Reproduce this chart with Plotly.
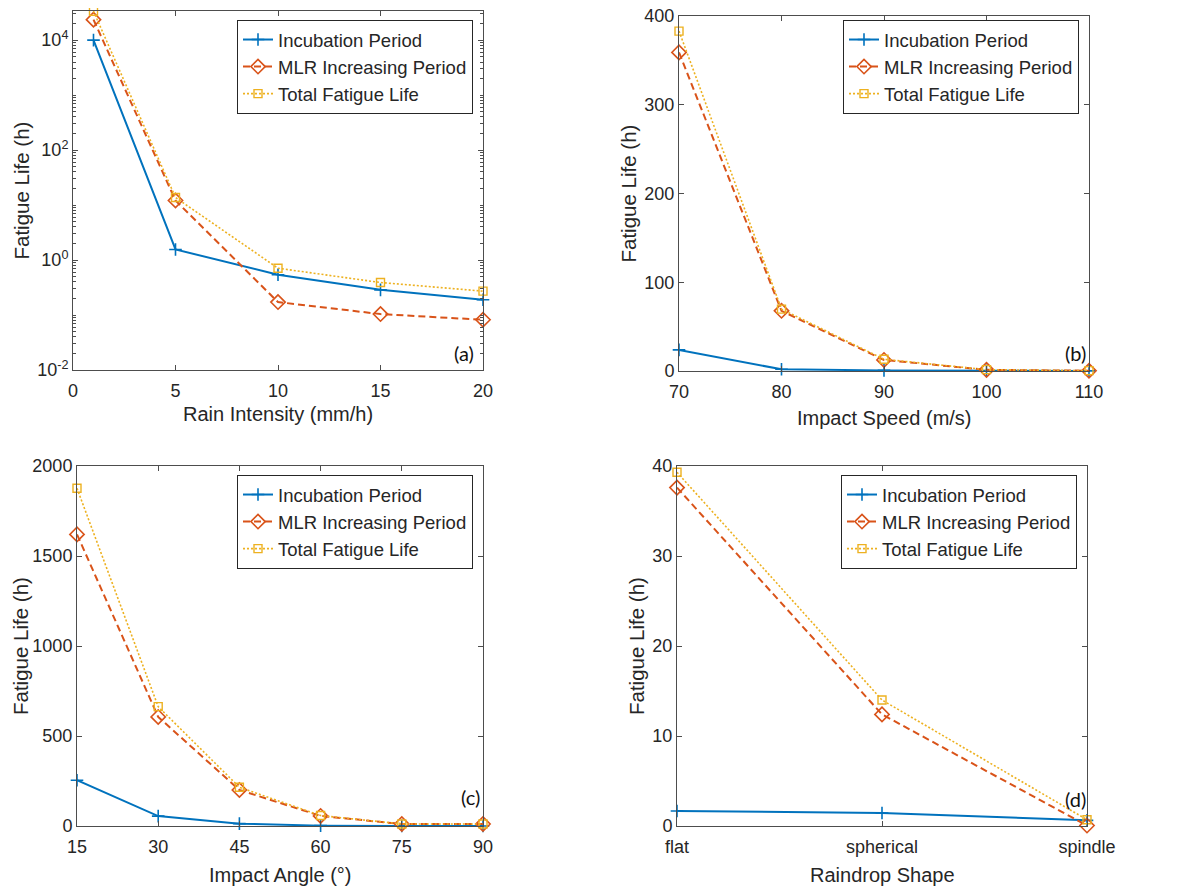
import plotly.graph_objects as go

# --- data ---
rain_intensity = [1, 5, 10, 15, 20]
a_incubation = [10000, 1.56, 0.54, 0.287, 0.19]
a_mlr = [23600, 12.1, 0.172, 0.104, 0.082]
a_total = [33600, 13.7, 0.71, 0.39, 0.272]

impact_speed = [70, 80, 90, 100, 110]
b_incubation = [23.8, 1.9, 0.7, 0.2, 0.1]
b_mlr = [359, 67.8, 12.5, 1.3, 0.3]
b_total = [383, 69.7, 13.2, 1.5, 0.4]

impact_angle = [15, 30, 45, 60, 75, 90]
c_incubation = [254, 55, 13, 2, 0.5, 0.2]
c_mlr = [1620, 606, 200, 56, 11, 11]
c_total = [1876, 663, 215, 58, 11.5, 11.2]

raindrop_shape = ["flat", "spherical", "spindle"]
d_incubation = [1.67, 1.45, 0.63]
d_mlr = [37.6, 12.4, 0.05]
d_total = [39.3, 14.0, 0.7]

series_names = ["Incubation Period", "MLR Increasing Period", "Total Fatigue Life"]
log_tickvals = [0.01, 1, 100, 10000]
log_ticktext = ["10<sup>-2</sup>", "10<sup>0</sup>", "10<sup>2</sup>", "10<sup>4</sup>"]

# --- MATLAB-ish style ---
BLUE = "#0072BD"
ORANGE = "#D95319"
YELLOW = "#EDB120"
INK = "#262626"
AXIS = "#4d4d4d"
FONT = "'Liberation Sans', Arial, sans-serif"
PAGE = 8  # default body margin of the html page
W, H = 1200 - PAGE, 893 - PAGE

STYLES = [
    dict(line=dict(color=BLUE, width=2),
         marker=dict(symbol="cross-thin", size=9, color=BLUE, line=dict(color=BLUE, width=1.6))),
    dict(line=dict(color=ORANGE, width=2, dash="7px,4px"),
         marker=dict(symbol="diamond-open", size=11, color=ORANGE, line=dict(color=ORANGE, width=1.6))),
    dict(line=dict(color=YELLOW, width=1.6, dash="2px,2px"),
         marker=dict(symbol="square-open", size=8, color=YELLOW, line=dict(color=YELLOW, width=1.4))),
]

# plot areas in window pixels: (left, right, top, bottom)
BOXES = [(73, 483, 11, 370), (679, 1089, 16, 371), (77, 483, 466, 826), (677, 1087, 466, 826)]
panels = [
    (rain_intensity, [a_incubation, a_mlr, a_total]),
    (impact_speed, [b_incubation, b_mlr, b_total]),
    (impact_angle, [c_incubation, c_mlr, c_total]),
    (raindrop_shape, [d_incubation, d_mlr, d_total]),
]

fig = go.Figure()
for p, (xs, ys_list) in enumerate(panels):
    sfx = "" if p == 0 else str(p + 1)
    for s, ys in enumerate(ys_list):
        fig.add_trace(go.Scatter(
            x=xs, y=ys, mode="lines+markers", name=series_names[s],
            xaxis="x" + sfx, yaxis="y" + sfx, legend="legend" + sfx,
            cliponaxis=False, **STYLES[s]))


def px_x(v):
    return (v - PAGE) / W


def px_y(v):
    return 1 - (v - PAGE) / H


axis_common = dict(
    showline=True, linecolor=AXIS, linewidth=1, mirror="ticks",
    ticks="inside", ticklen=5, tickcolor=AXIS, tickwidth=1,
    showgrid=False, zeroline=False, automargin=False,
    ticklabeloverflow="allow",
    tickfont=dict(family=FONT, size=18, color=INK),
)

x_settings = [
    dict(range=[0, 20], tickvals=[0, 5, 10, 15, 20]),
    dict(range=[70, 110], tickvals=[70, 80, 90, 100, 110]),
    dict(range=[15, 90], tickvals=[15, 30, 45, 60, 75, 90]),
    dict(type="category", range=[0, 2]),
]
y_settings = [
    dict(type="log", range=[-2, 4.53], tickvals=log_tickvals, ticktext=log_ticktext,
         minor=dict(ticks="inside", ticklen=3, tickcolor=AXIS, dtick="D1", showgrid=False)),
    dict(range=[0, 400], tickvals=[0, 100, 200, 300, 400]),
    dict(range=[0, 2000], tickvals=[0, 500, 1000, 1500, 2000]),
    dict(range=[0, 40], tickvals=[0, 10, 20, 30, 40]),
]

layout = {}
annotations = []
x_titles = ["Rain Intensity (mm/h)", "Impact Speed (m/s)", "Impact Angle (°)", "Raindrop Shape"]
x_title_y = [414, 418, 875, 875]
y_title_x = [21, 628, 20, 636]
panel_tags = ["(a)", "(b)", "(c)", "(d)"]
tag_pos = [(464, 353), (1075, 353), (470, 797), (1075, 799)]
legend_right_top = [(473, 20), (1079, 20), (473, 475), (1077, 475)]

for p, (l, r, t, b) in enumerate(BOXES):
    sfx = "" if p == 0 else str(p + 1)
    layout["xaxis" + sfx] = dict(domain=[px_x(l), px_x(r)], anchor="y" + sfx,
                                 ticklabelstandoff=4, **axis_common, **x_settings[p])
    layout["yaxis" + sfx] = dict(domain=[px_y(b), px_y(t)], anchor="x" + sfx,
                                 **axis_common, **y_settings[p])
    lx, ly = legend_right_top[p]
    layout["legend" + sfx] = dict(
        x=px_x(lx), y=px_y(ly), xanchor="right", yanchor="top",
        bgcolor="white", bordercolor=INK, borderwidth=1,
        font=dict(family=FONT, size=18.5, color=INK),
        tracegroupgap=0, itemwidth=30,
    )
    annotations.append(dict(
        x=px_x((l + r) / 2), y=px_y(x_title_y[p]), xref="paper", yref="paper",
        text=x_titles[p], showarrow=False, xanchor="center", yanchor="middle",
        font=dict(family=FONT, size=20, color=INK)))
    annotations.append(dict(
        x=px_x(y_title_x[p]), y=px_y((t + b) / 2), xref="paper", yref="paper",
        text="Fatigue Life (h)", textangle=-90, showarrow=False,
        xanchor="center", yanchor="middle",
        font=dict(family=FONT, size=20.5, color=INK)))
    tx, ty = tag_pos[p]
    annotations.append(dict(
        x=px_x(tx), y=px_y(ty), xref="paper", yref="paper",
        text=panel_tags[p], showarrow=False, xanchor="center", yanchor="middle",
        font=dict(family="Lato, sans-serif", size=20, color="#111111")))

fig.update_layout(
    width=W, height=H, margin=dict(l=0, r=0, t=0, b=0, autoexpand=False),
    paper_bgcolor="white", plot_bgcolor="white",
    showlegend=True, annotations=annotations, **layout,
)

fig.write_html("out.html")
